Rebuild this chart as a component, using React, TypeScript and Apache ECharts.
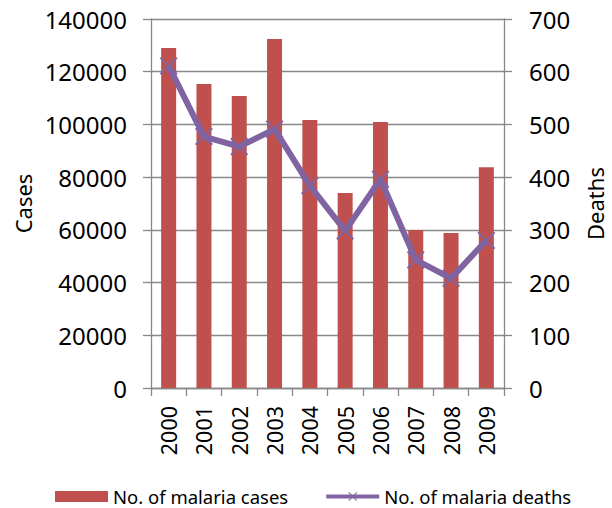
import React, { useEffect, useRef } from "react";
import * as echarts from "echarts";

const years = ["2000", "2001", "2002", "2003", "2004", "2005", "2006", "2007", "2008", "2009"];
const malariaCases = [129000, 115300, 110800, 132400, 101700, 74000, 100900, 59900, 58800, 83800];
const malariaDeaths = [611, 477, 458, 491, 384, 298, 396, 243, 208, 280];
const casesTicks = { min: 0, max: 140000, interval: 20000 };
const deathsTicks = { min: 0, max: 700, interval: 100 };

const FONT = "Noto Sans";
const GRID_COLOR = "#888888";
const X_SYMBOL =
  "path://M0,0.08 L0.08,0 L0.5,0.42 L0.92,0 L1,0.08 L0.58,0.5 L1,0.92 L0.92,1 L0.5,0.58 L0.08,1 L0,0.92 L0.42,0.5 Z";

export default function App() {
  const ref = useRef<HTMLDivElement>(null);

  useEffect(() => {
    if (!ref.current) return;
    const chart = echarts.init(ref.current, undefined, { renderer: "svg" });
    const axisLine = { show: true, lineStyle: { color: GRID_COLOR, width: 1.3 } };
    const plain = (v: number) => String(v);
    chart.setOption({
      animation: false,
      backgroundColor: "#ffffff",
      textStyle: { fontFamily: FONT },
      grid: { left: 151, right: 108, top: 19, bottom: 120, containLabel: false },
      legend: {
        left: 55,
        top: 487,
        padding: 0,
        itemWidth: 53,
        itemHeight: 11,
        itemGap: 36,
        textStyle: { fontFamily: FONT, fontSize: 18.5, lineHeight: 18, color: "#000" },
        lineStyle: { width: 4 },
        data: [
          { name: "No. of malaria cases", icon: "rect" },
          { name: "No. of malaria deaths" },
        ],
      },
      xAxis: {
        type: "category",
        data: years,
        axisLine,
        axisTick: { show: true, length: 8, lineStyle: { color: GRID_COLOR, width: 1.3 } },
        axisLabel: {
          rotate: 90,
          margin: 18,
          fontFamily: FONT,
          fontSize: 21.5,
          color: "#000",
        },
        splitLine: { show: false },
      },
      yAxis: [
        {
          type: "value",
          min: casesTicks.min,
          max: casesTicks.max,
          interval: casesTicks.interval,
          axisLine,
          axisTick: { show: true, length: 8, lineStyle: { color: GRID_COLOR, width: 1.3 } },
          axisLabel: { margin: 24, fontFamily: FONT, fontSize: 24, color: "#000", formatter: plain },
          splitLine: { show: true, lineStyle: { color: GRID_COLOR, width: 1.3 } },
        },
        {
          type: "value",
          position: "right",
          min: deathsTicks.min,
          max: deathsTicks.max,
          interval: deathsTicks.interval,
          axisLine,
          axisTick: { show: true, length: 8, lineStyle: { color: GRID_COLOR, width: 1.3 } },
          axisLabel: { margin: 25, fontFamily: FONT, fontSize: 24, color: "#000", formatter: plain },
          splitLine: { show: false },
        },
      ],
      graphic: [
        {
          type: "text",
          x: 23,
          y: 203.5,
          rotation: Math.PI / 2,
          style: {
            text: "Cases",
            fontFamily: FONT,
            fontSize: 22,
            fill: "#000",
            align: "center",
            verticalAlign: "middle",
          },
        },
        {
          type: "text",
          x: 595,
          y: 203.5,
          rotation: Math.PI / 2,
          style: {
            text: "Deaths",
            fontFamily: FONT,
            fontSize: 22,
            fill: "#000",
            align: "center",
            verticalAlign: "middle",
          },
        },
      ],
      series: [
        {
          name: "No. of malaria cases",
          type: "bar",
          data: malariaCases,
          yAxisIndex: 0,
          barWidth: 15,
          itemStyle: { color: "#C0504D" },
        },
        {
          name: "No. of malaria deaths",
          type: "line",
          data: malariaDeaths,
          yAxisIndex: 1,
          symbol: X_SYMBOL,
          symbolSize: 18,
          showAllSymbol: true,
          lineStyle: { color: "#8064A2", width: 6 },
          itemStyle: { color: "#8064A2" },
        },
      ],
    });
    return () => chart.dispose();
  }, []);

  return (
    <div
      ref={ref}
      style={{ position: "fixed", left: 0, top: 0, width: 612, height: 508, background: "#fff" }}
    />
  );
}
